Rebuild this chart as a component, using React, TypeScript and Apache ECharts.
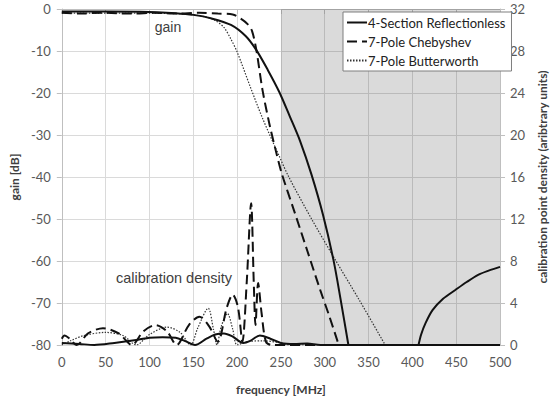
import React, { useEffect, useRef } from "react";
import * as echarts from "echarts";

// ---- data ----
const seriesNames = ["4-Section Reflectionless", "7-Pole Chebyshev", "7-Pole Butterworth"];

// gain [dB] vs frequency [MHz]
const reflFreq = [0, 50, 100, 130, 150, 170, 193, 210, 222, 235, 248, 260, 272, 285, 298, 310, 318, 327];
const reflGain = [-0.6, -0.6, -0.7, -1.0, -1.4, -2.2, -3.8, -6.5, -9.8, -14.5, -19.7, -25.5, -31.5, -39.5, -49, -59.8, -69, -80];
const reflTailFreq = [407, 410, 415, 423, 435, 449, 462, 475, 487, 500];
const reflTailGain = [-80, -77.5, -74.8, -71.7, -69, -66.9, -65, -63.3, -62.3, -61.4];

const chebFreq = [0, 20, 45, 80, 107, 131, 157, 178, 195, 205, 212, 217, 222, 229, 237, 244, 251, 265, 280, 295, 305, 316];
const chebGain = [-0.9, -1.1, -0.9, -1.1, -0.9, -1.1, -0.9, -1.1, -1.3, -2.4, -3.6, -5.2, -9.8, -19.3, -27.5, -33.6, -39.2, -48, -57.5, -67, -73, -80];

const butFreq = [0, 50, 100, 140, 160, 174, 185, 193, 200, 215, 229, 248, 259, 285, 310, 340, 369];
const butGain = [-1.0, -1.0, -1.0, -1.2, -1.7, -2.6, -4.4, -7.2, -10.2, -18.5, -26, -35, -40, -50, -59, -69.5, -80];

// calibration point density (arbitrary units) vs frequency [MHz]
const reflDensFreq = [0, 20, 37, 60, 87, 100, 115, 130, 140, 152, 165, 175, 185, 195, 207, 215, 226, 238, 250, 265, 280, 295, 500];
const reflDens = [0.2, 0.1, 0, 0.2, 0.5, 0.7, 0.75, 0.7, 0.4, 0, 0.6, 1.0, 1.1, 0.8, 0.2, 0.4, 0.9, 0.6, 0.2, 0.1, 0.15, 0, 0];

const chebDensFreq = [0, 3, 9, 17, 30, 47, 65, 80, 93, 107, 120, 131, 145, 157, 168, 178, 188, 195, 201, 206, 211, 216, 219, 221, 224, 228, 233, 240, 500];
const chebDens = [0.6, 0.9, 0.6, 0, 1.1, 1.6, 1.1, 0, 1.3, 1.9, 1.3, 0, 1.9, 2.7, 1.8, 0.3, 3.5, 4.8, 3.6, 0.3, 6, 13.5, 6, 1.9, 5.9, 3, 0.3, 0, 0];

const butDensFreq = [0, 10, 25, 50, 70, 85, 100, 120, 135, 147, 155, 167, 173, 177, 182, 189, 195, 200, 210, 230, 250, 260, 500];
const butDens = [0, 0.4, 0.9, 1.2, 0.9, 0, 1.0, 1.7, 1.2, 0, 1.6, 3.5, 1.5, 0, 1.8, 3.0, 1.5, 0, 0.3, 0.4, 0.2, 0, 0];

const shadedBand = [250, 500];

const zip = (xs: number[], ys: number[]) => xs.map((x, i) => [x, ys[i]]);

const App: React.FC = () => {
  const ref = useRef<HTMLDivElement>(null);

  useEffect(() => {
    if (!ref.current) return;
    const chart = echarts.init(ref.current, undefined, { renderer: "svg" });

    const tickFont = { fontFamily: "Lato, 'Open Sans', sans-serif", fontSize: 13, color: "#595959" };
    const nameFont = { fontFamily: "Lato, 'Open Sans', sans-serif", fontSize: 12, fontWeight: "bold" as const, color: "#404040" };
    const axisGray = "#bfbfbf";
    const gridGray = "#dadada";

    const solid = { color: "#111", width: 2, type: "solid" as const };
    const dashed = { color: "#111", width: 2, type: [10, 5] as any };
    const dotted = { color: "#333", width: 1.2, type: [1.5, 1.5] as any };

    const common = { type: "line" as const, showSymbol: false, symbol: "none", smooth: 0.3 };

    chart.setOption({
      animation: false,
      grid: { left: 55, right: 47, top: 9, bottom: 55, containLabel: false },
      legend: {
        data: seriesNames,
        orient: "vertical",
        left: 343,
        top: 12,
        backgroundColor: "#fff",
        borderColor: "#7f7f7f",
        borderWidth: 1,
        padding: [4, 6, 4, 3],
        itemWidth: 20,
        itemHeight: 14,
        itemGap: 6,
        itemStyle: { opacity: 0 },
        textStyle: { fontFamily: "Lato, 'Open Sans', sans-serif", fontSize: 13, color: "#222", padding: [0, 0, 0, -4] },
      },
      xAxis: {
        type: "value",
        min: 0,
        max: 500,
        interval: 50,
        name: "frequency [MHz]",
        nameLocation: "middle",
        nameGap: 38,
        nameTextStyle: nameFont,
        axisLine: { show: true, lineStyle: { color: axisGray } },
        axisTick: { show: true, length: 5, lineStyle: { color: axisGray } },
        axisLabel: { ...tickFont, margin: 10 },
        splitLine: { show: true, lineStyle: { color: gridGray } },
      },
      yAxis: [
        {
          type: "value",
          min: -80,
          max: 0,
          interval: 10,
          name: "gain [dB]",
          nameLocation: "middle",
          nameGap: 36,
          nameTextStyle: nameFont,
          axisLine: { show: true, lineStyle: { color: axisGray } },
          axisTick: { show: true, length: 5, lineStyle: { color: axisGray } },
          axisLabel: { ...tickFont, margin: 11 },
          splitLine: { show: true, lineStyle: { color: gridGray } },
        },
        {
          type: "value",
          position: "right",
          min: 0,
          max: 32,
          interval: 4,
          name: "calibration point density (aribtrary units)",
          nameLocation: "middle",
          nameGap: 30,
          nameTextStyle: nameFont,
          axisLine: { show: true, lineStyle: { color: axisGray } },
          axisTick: { show: true, length: 5, lineStyle: { color: axisGray } },
          axisLabel: { ...tickFont, margin: 10 },
          splitLine: { show: false },
        },
      ],
      series: [
        {
          ...common,
          name: seriesNames[0],
          yAxisIndex: 0,
          data: [...zip(reflFreq, reflGain), [367, null], ...zip(reflTailFreq, reflTailGain)],
          connectNulls: false,
          lineStyle: solid,
          itemStyle: { color: "#111" },
          z: 5,
          markArea: {
            silent: true,
            itemStyle: { color: "rgba(0,0,0,0.145)" },
            data: [[{ xAxis: shadedBand[0] }, { xAxis: shadedBand[1] }]],
          },
        },
        {
          ...common,
          name: seriesNames[1],
          yAxisIndex: 0,
          data: zip(chebFreq, chebGain),
          lineStyle: dashed,
          itemStyle: { color: "#111" },
          z: 4,
        },
        {
          ...common,
          name: seriesNames[2],
          yAxisIndex: 0,
          data: zip(butFreq, butGain),
          lineStyle: dotted,
          itemStyle: { color: "#333" },
          z: 3,
        },
        {
          ...common,
          name: seriesNames[1],
          yAxisIndex: 1,
          data: zip(chebDensFreq, chebDens),
          lineStyle: dashed,
          itemStyle: { color: "#111" },
          z: 4,
        },
        {
          ...common,
          name: seriesNames[2],
          yAxisIndex: 1,
          data: zip(butDensFreq, butDens),
          lineStyle: dotted,
          itemStyle: { color: "#333" },
          z: 3,
        },
        {
          ...common,
          name: seriesNames[0],
          yAxisIndex: 1,
          data: zip(reflDensFreq, reflDens),
          lineStyle: solid,
          itemStyle: { color: "#111" },
          z: 5,
        },
      ],
      graphic: [
        {
          type: "text",
          x: 168,
          y: 27,
          style: {
            text: "gain",
            font: "14px 'Liberation Sans', Arial, sans-serif",
            fill: "#404040",
            align: "center",
            verticalAlign: "middle",
          },
          z: 10,
        },
        {
          type: "text",
          x: 174,
          y: 278,
          style: {
            text: "calibration density",
            font: "14.5px 'Liberation Sans', Arial, sans-serif",
            fill: "#404040",
            align: "center",
            verticalAlign: "middle",
          },
          z: 10,
        },
      ],
    });

    return () => chart.dispose();
  }, []);

  return <div ref={ref} style={{ width: 556, height: 400, position: "absolute", left: 0, top: 0 }} />;
};

export default App;
